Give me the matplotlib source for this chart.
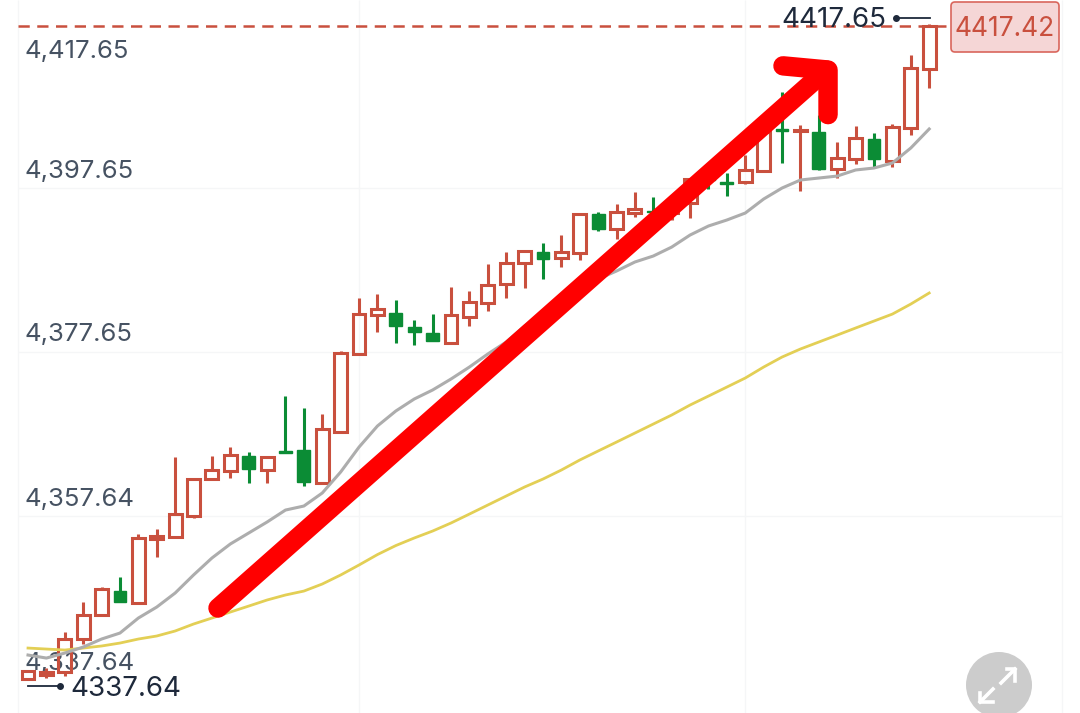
import matplotlib
matplotlib.use('Agg')
import matplotlib.pyplot as plt
from matplotlib.patches import Circle, FancyBboxPatch

plt.rcParams['font.family'] = ['Inter', 'DejaVu Sans']

# Candles, oldest first
opens = [4337.77, 4338.26, 4338.63, 4342.65, 4345.58, 4348.50, 4347.04, 4354.85, 4355.09, 4357.65,
         4362.16, 4363.14, 4364.97, 4363.26, 4365.52, 4365.70, 4361.67, 4367.89, 4377.41, 4382.16,
         4382.41, 4380.70, 4379.97, 4378.75, 4381.92, 4383.63, 4385.94, 4388.50, 4389.85, 4389.11,
         4389.72, 4394.48, 4392.65, 4394.60, 4394.85, 4394.60, 4395.82, 4399.11, 4398.38, 4398.38,
         4399.72, 4404.85, 4404.66, 4404.48, 4399.97, 4401.19, 4403.63, 4400.94, 4404.97, 4412.16]
closes = [4338.75, 4338.63, 4342.65, 4345.58, 4348.75, 4347.16, 4354.97, 4355.21, 4357.89, 4362.16,
          4363.26, 4365.09, 4363.38, 4364.85, 4365.39, 4361.80, 4368.26, 4377.53, 4382.28, 4382.89,
          4380.82, 4380.09, 4378.99, 4382.16, 4383.75, 4385.82, 4388.50, 4389.97, 4388.99, 4389.85,
          4394.48, 4392.65, 4394.72, 4395.09, 4394.72, 4395.82, 4398.75, 4398.63, 4398.14, 4399.85,
          4404.48, 4404.60, 4404.78, 4399.97, 4401.31, 4403.75, 4401.19, 4405.09, 4412.28, 4417.42]
highs = [4338.75, 4339.11, 4343.50, 4347.16, 4348.99, 4350.21, 4355.46, 4356.07, 4364.85, 4362.16,
         4364.97, 4366.06, 4365.46, 4364.97, 4372.28, 4370.82, 4370.09, 4377.77, 4384.24, 4384.72,
         4383.99, 4381.55, 4382.28, 4385.58, 4385.09, 4388.38, 4389.85, 4389.97, 4390.94, 4391.92,
         4394.48, 4394.72, 4395.70, 4397.16, 4396.55, 4396.80, 4398.87, 4400.45, 4399.48, 4401.67,
         4405.94, 4409.36, 4405.33, 4406.55, 4403.26, 4405.21, 4404.36, 4405.45, 4413.87, 4417.65]
lows = [4337.77, 4337.89, 4338.14, 4342.04, 4345.58, 4347.16, 4347.04, 4352.65, 4355.09, 4357.41,
        4362.04, 4362.28, 4361.67, 4361.67, 4365.33, 4361.31, 4361.67, 4367.89, 4377.41, 4380.09,
        4378.75, 4378.50, 4378.99, 4378.75, 4380.82, 4382.65, 4384.24, 4385.45, 4386.55, 4388.02,
        4388.87, 4392.41, 4391.43, 4394.11, 4394.11, 4393.75, 4393.99, 4397.53, 4396.67, 4398.14,
        4399.72, 4400.70, 4397.28, 4399.85, 4398.87, 4400.58, 4400.21, 4400.21, 4404.11, 4409.85]

# Moving averages
ma_grey = [4340.70, 4340.33, 4340.94, 4341.67, 4342.65, 4343.38, 4345.21, 4346.55, 4348.26, 4350.46,
           4352.53, 4354.24, 4355.58, 4356.92, 4358.38, 4358.87, 4360.46, 4363.02, 4366.06, 4368.63,
           4370.46, 4371.92, 4373.02, 4374.36, 4375.82, 4377.41, 4378.87, 4380.82, 4382.41, 4383.99,
           4385.33, 4386.55, 4387.53, 4388.63, 4389.36, 4390.45, 4391.92, 4393.02, 4393.75, 4394.60,
           4396.31, 4397.65, 4398.63, 4398.87, 4399.11, 4399.85, 4400.09, 4400.70, 4402.53, 4404.85]
ma_yellow = [4341.55, 4341.43, 4341.31, 4341.55, 4341.80, 4342.16, 4342.65, 4343.02, 4343.63, 4344.48,
             4345.21, 4345.94, 4346.67, 4347.41, 4348.02, 4348.50, 4349.36, 4350.46, 4351.68, 4352.95,
             4354.05, 4354.97, 4355.82, 4356.80, 4357.89, 4358.99, 4360.09, 4361.19, 4362.16, 4363.26,
             4364.48, 4365.58, 4366.67, 4367.77, 4368.87, 4369.97, 4371.19, 4372.28, 4373.38, 4374.48,
             4375.82, 4377.04, 4378.02, 4378.87, 4379.72, 4380.58, 4381.43, 4382.28, 4383.50, 4384.85]

grid_prices = [4397.65, 4377.65, 4357.64]
grid_candles = [18, 39]
axis_labels = ['4,417.65', '4,397.65', '4,377.65', '4,357.64', '4,337.64']
last_price = 4417.42

# Hand drawn arrow, in candle number / price
arrow_x = [10.33, 43.4]
arrow_y = [4346.43, 4412.04]
head_x = [41.05, 43.5, 43.5]
head_y = [4412.55, 4412.04, 4406.6]

RED = '#c9503e'
GREEN = '#0b8c35'

fig = plt.figure(figsize=(10.8, 7.13), dpi=100)
ax = fig.add_axes([0, 0, 1, 1])
ax.set_xlim(-1.523, 57.2)
ax.set_ylim(4333.63, 4420.58)
ax.set_axis_off()

# Grid
ax.hlines(grid_prices, -0.54, 56.2, color='#f5f6f7', lw=1, zorder=1)
ax.vlines(grid_candles + [-0.54, 56.2], 4333.63, 4420.58, color='#f5f6f7', lw=1, zorder=1)

# Pixel overlay for labels and the button
ui = fig.add_axes([0, 0, 1, 1], facecolor='none')
ui.set_xlim(0, 1080)
ui.set_ylim(713, 0)
ui.set_axis_off()
ui.set_zorder(2)
ax.set_zorder(1)

label_y = [51, 172, 335, 500, 664]
for txt, y in zip(axis_labels, label_y):
    ax.text(24 / 1080, 1 - y / 713, txt, transform=ax.transAxes, fontsize=18.5, color='#465262',
            ha='left', va='center', zorder=2)

# Candles
for i in range(len(opens)):
    up = closes[i] >= opens[i]
    col = RED if up else GREEN
    top = max(opens[i], closes[i])
    bot = min(opens[i], closes[i])
    ax.vlines(i, top, highs[i], color=col, lw=2.2, zorder=3)
    ax.vlines(i, lows[i], bot, color=col, lw=2.2, zorder=3)
    if up:
        ax.bar(i, top - bot, bottom=bot, width=0.7, facecolor='none', edgecolor=col, lw=2.2, zorder=3)
    else:
        ax.bar(i, top - bot, bottom=bot, width=0.7, facecolor=col, edgecolor=col, lw=1, zorder=3)

days = range(len(ma_grey))
ax.plot(days, ma_yellow, color='#e3cf55', lw=2, zorder=4)
ax.plot(days, ma_grey, color='#adadad', lw=2.2, zorder=4)

# Last price line
ax.plot([-0.54, 49.9], [last_price, last_price], color=RED, lw=1.8, dashes=(4.5, 3), zorder=3)

# Red arrow
ax.plot(arrow_x, arrow_y, color='#ff0000', lw=14, solid_capstyle='round', zorder=5)
ax.plot(head_x, head_y, color='#ff0000', lw=14, solid_capstyle='round', solid_joinstyle='round', zorder=5)

# High / low markers
ui.plot([28, 60], [686, 686], color='#1e293b', lw=1.3)
ui.plot([60], [686], 'o', color='#1e293b', ms=4)
ui.text(70, 689, '4337.64', fontsize=20, color='#1e293b', ha='left', va='center')
ui.plot([896, 930], [18, 18], color='#1e293b', lw=1.3)
ui.plot([896], [18], 'o', color='#1e293b', ms=4)
ui.text(781, 20, '4417.65', fontsize=20, color='#1e293b', ha='left', va='center')

# Price tag
ui.add_patch(FancyBboxPatch((951, 2), 108, 50, boxstyle='round,pad=0,rounding_size=4',
                            facecolor='#f5d6d6', edgecolor='#d9665c', lw=1.2))
ui.text(1005, 29, '4417.42', fontsize=19, color=RED, ha='center', va='center')

# Expand button
ui.add_patch(Circle((999, 685), 33, facecolor='#cccccc', edgecolor='none'))
ui.plot([1001, 1015], [683, 669], color='white', lw=2.6)
ui.plot([1007, 1015, 1015], [669, 669, 681], color='white', lw=2.6)
ui.plot([993, 980], [689, 702], color='white', lw=2.6)
ui.plot([980, 980, 993], [693, 702, 702], color='white', lw=2.6)

fig.savefig('out.png', dpi=100)
